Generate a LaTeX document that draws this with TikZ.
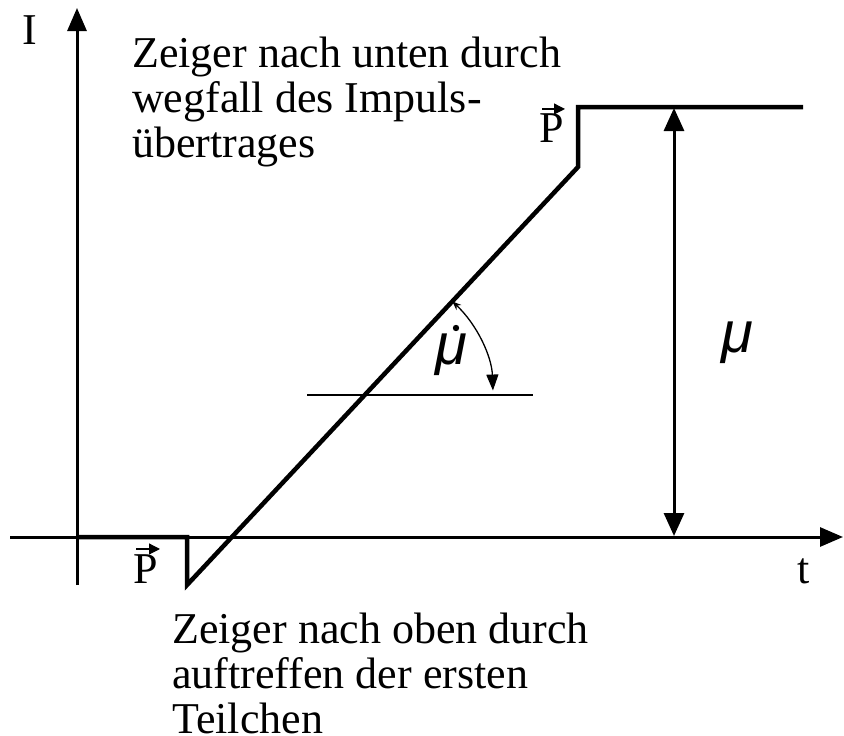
\documentclass[tikz,border=0pt]{standalone}
\usepackage{fontspec}
\setmainfont{Liberation Serif}
\newfontfamily\arialf{Liberation Sans}
\usetikzlibrary{arrows.meta,calc}
\begin{document}
\begin{tikzpicture}[x=1pt,y=-1pt,
  axis/.style={line width=3pt,-{Triangle[length=23pt,width=19pt]}},
  graph/.style={line width=4.5pt,line join=miter},
  dimarrow/.style={line width=3pt,{Triangle[length=23pt,width=20pt]}-{Triangle[length=23pt,width=20pt]}},
  thin/.style={line width=1.3pt},
  anglearrow/.style={line width=1.3pt,{Stealth[length=9pt,width=7pt]}-{Triangle[length=16pt,width=12pt]}},
  pvec/.style={line width=1.2pt,-{Triangle[length=11pt,width=11pt]}},
  txt/.style={font=\fontsize{44}{45}\selectfont,inner sep=0pt},
  mufont/.style={font=\arialf\itshape\fontsize{58}{60}\selectfont,inner sep=0pt}]
\useasboundingbox (0,0) rectangle (844,736);
% coordinates
\coordinate (ybot) at (77,585);
\coordinate (ytop) at (77,8);
\coordinate (xl) at (10,537);
\coordinate (xr) at (843,537);
\coordinate (o) at (77,537);
\coordinate (g1) at (187,537);
\coordinate (g2) at (187,585);
\coordinate (g3) at (578,167);
\coordinate (g4) at (578,107);
\coordinate (g5) at (803,107);
\coordinate (da1) at (674,108);
\coordinate (da2) at (674,536);
\coordinate (h1) at (307,395);
\coordinate (h2) at (533,395);
\coordinate (arcstart) at (452.3,301.4);
% axes
\draw[axis] (ybot) -- (ytop);
\draw[axis] (xl) -- (xr);
\node[txt,anchor=base] (labI) at (30,45) {I};
\node[txt,anchor=base] (labt) at (804,583) {t};
% graph
\draw[graph] (o) -- (g1) -- (g2) -- (g3) -- (g4) -- (g5);
% dimension arrow
\draw[dimarrow] (da1) -- (da2);
\node[mufont,anchor=base] (mubig) at (737,352) {μ};
% angle
\draw[thin] (h1) -- (h2);
\draw[anglearrow] (arcstart) arc[start angle=-47,end angle=-2,radius=128];
\node[mufont,anchor=base] (musmall) at (451,364) {μ};
\fill (456,328) circle (3.2pt);
% P vectors
\node[txt,anchor=base] (ptop) at (552,142) {P};
\draw[pvec] ([xshift=-10pt,yshift=4pt]ptop.north) -- ++(23,0);
\node[txt,anchor=base] (pbot) at (146,583) {P};
\draw[pvec] ([xshift=-10pt,yshift=5pt]pbot.north) -- ++(24,0);
% texts
\node[txt,anchor=north west,align=left] (ttop) at (132,37) {Zeiger nach unten durch\\wegfall des Impuls-\\übertrages};
\node[txt,anchor=north west,align=left] (tbot) at (172,613) {Zeiger nach oben durch\\auftreffen der ersten\\Teilchen};
\end{tikzpicture}
\end{document}
